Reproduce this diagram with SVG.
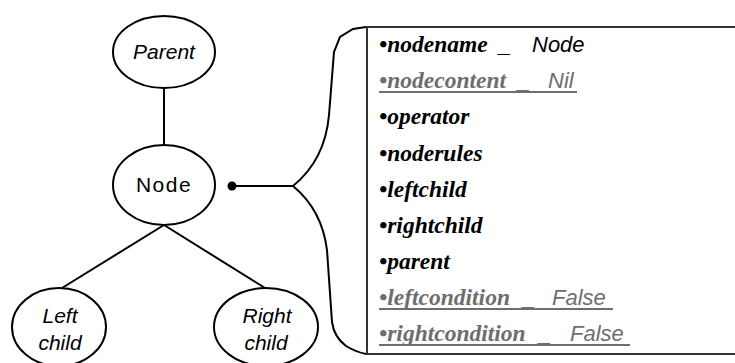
<svg xmlns="http://www.w3.org/2000/svg" width="735" height="363" viewBox="0 0 735 363">
<style>
.node{fill:#fff;stroke:#000;stroke-width:2}
.lbl{font-family:"Liberation Sans",Arial,sans-serif;font-size:21px;fill:#000;text-anchor:middle}
.it{font-style:italic}
.edge{stroke:#000;stroke-width:2;fill:none}
.key{font-family:"Liberation Serif","Times New Roman",serif;font-weight:bold;font-style:italic;font-size:23.5px}
.val{font-family:"Liberation Sans",Arial,sans-serif;font-style:italic;font-size:22px}
.blk{fill:#000}
.gry{fill:#6e6e6e}
.ul{stroke:#6e6e6e;stroke-width:2}
</style>
<rect width="735" height="363" fill="#fff"/>
<g id="connectors">
<line class="edge" x1="164" y1="88" x2="164" y2="145"/>
<line class="edge" x1="164" y1="225" x2="62" y2="288"/>
<line class="edge" x1="164" y1="225" x2="265" y2="288"/>
<circle cx="232" cy="186" r="4.5" fill="#000"/>
<line class="edge" x1="232" y1="186" x2="293" y2="186"/>
<path class="edge" d="M366,27 L353,29 L340,37 L334,52 L329,115 Q325,160 293,186 Q322,210 327,250 L332,322 Q334,337 346,346 Q356,352 366,354"/>
</g>
<g id="parent">
<ellipse class="node" cx="164" cy="52" rx="51" ry="36"/>
<text class="lbl it" x="164" y="59">Parent</text>
</g>
<g id="node">
<ellipse class="node" cx="164" cy="185" rx="51" ry="40"/>
<text class="lbl" x="164" y="192" letter-spacing="1.5">Node</text>
</g>
<g id="leftchild">
<ellipse class="node" cx="59" cy="327" rx="47" ry="39"/>
<text class="lbl it" x="60" y="323">Left</text>
<text class="lbl it" x="60" y="350">child</text>
</g>
<g id="rightchild">
<ellipse class="node" cx="266" cy="327" rx="52" ry="39"/>
<text class="lbl it" x="267" y="323">Right</text>
<text class="lbl it" x="266" y="350">child</text>
</g>
<g id="attributes">
<path d="M740,27 L367,27 L367,354 L740,354" fill="none" stroke="#333" stroke-width="2"/>
<text class="blk" y="52"><tspan class="key" x="379">•nodename</tspan><tspan class="val" x="499">_</tspan><tspan class="val" x="532">Node</tspan></text>
<text class="gry" y="88"><tspan class="key" x="379">•nodecontent</tspan><tspan class="val" x="518">_</tspan><tspan class="val" x="548">Nil</tspan></text>
<line class="ul" x1="379" y1="92" x2="577" y2="92"/>
<text class="blk" y="124"><tspan class="key" x="379">•operator</tspan></text>
<text class="blk" y="161"><tspan class="key" x="379">•noderules</tspan></text>
<text class="blk" y="197"><tspan class="key" x="379">•leftchild</tspan></text>
<text class="blk" y="233"><tspan class="key" x="379">•rightchild</tspan></text>
<text class="blk" y="269"><tspan class="key" x="379">•parent</tspan></text>
<text class="gry" y="305"><tspan class="key" x="379">•leftcondition</tspan><tspan class="val" x="523">_</tspan><tspan class="val" x="552">False</tspan></text>
<line class="ul" x1="379" y1="309" x2="613" y2="309"/>
<text class="gry" y="341"><tspan class="key" x="379">•rightcondition</tspan><tspan class="val" x="539">_</tspan><tspan class="val" x="570">False</tspan></text>
<line class="ul" x1="379" y1="345" x2="630" y2="345"/>
</g>
</svg>
